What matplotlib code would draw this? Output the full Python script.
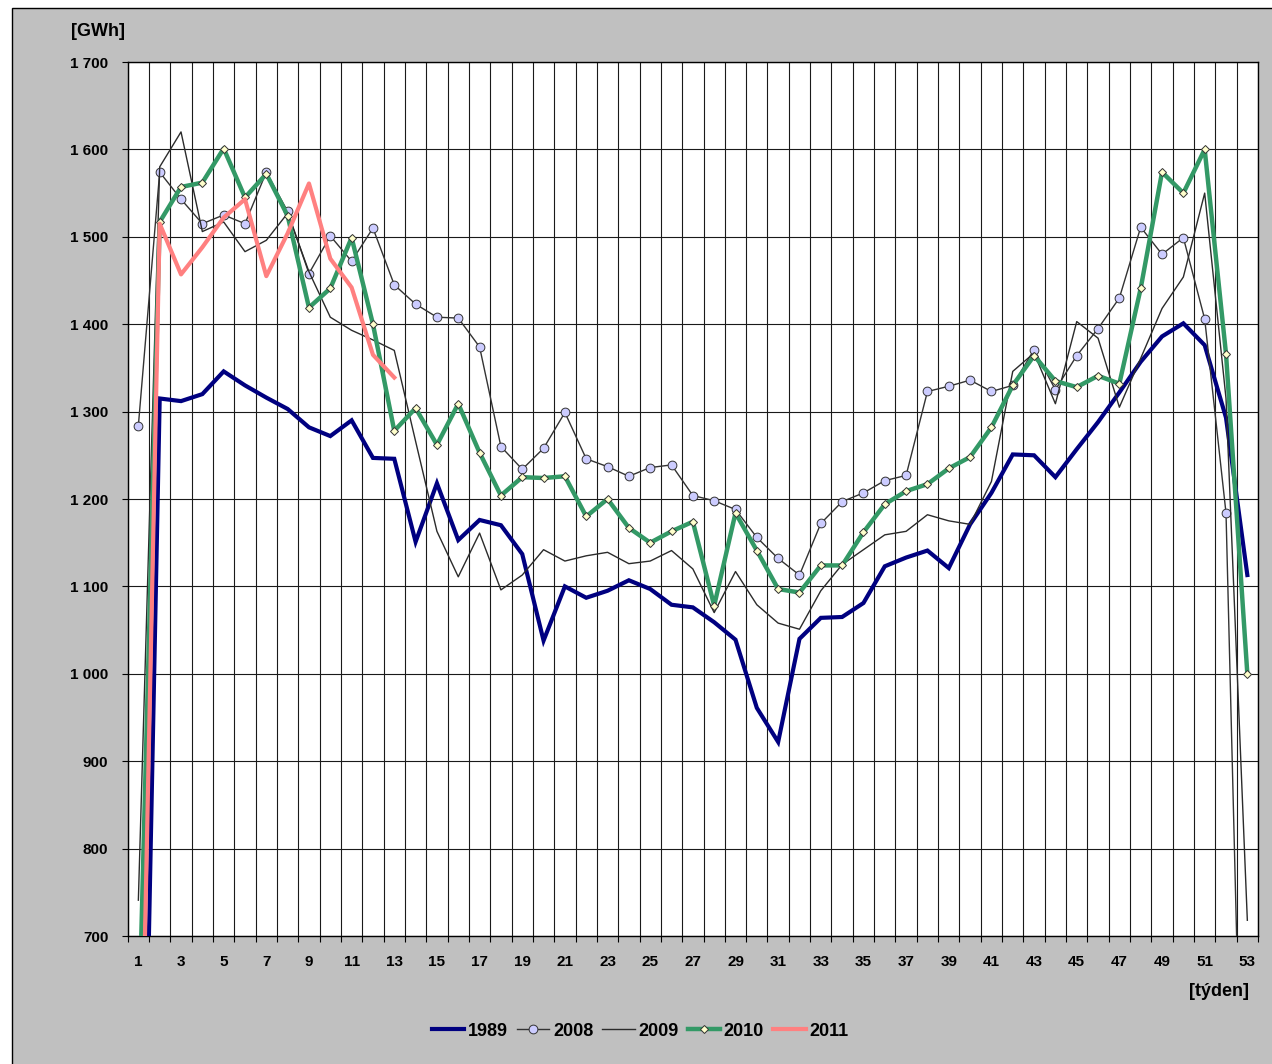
import numpy as np
import matplotlib
matplotlib.use("Agg")
import matplotlib.pyplot as plt
from matplotlib.patches import Rectangle
from matplotlib.ticker import FuncFormatter

plt.rcParams['font.family'] = ['Liberation Sans', 'DejaVu Sans']
plt.rcParams['font.weight'] = 'bold'

# Weekly electricity consumption [GWh]
weeks = np.arange(1, 54)

y1989 = [100, 1315, 1312, 1320, 1346, 1330, 1316, 1303, 1282, 1272, 1290, 1247, 1246,
         1151, 1218, 1153, 1176, 1170, 1137, 1038, 1100, 1087, 1095, 1107, 1097, 1079,
         1076, 1059, 1039, 961, 922, 1040, 1064, 1065, 1081, 1123, 1133, 1141, 1121,
         1171, 1207, 1251, 1250, 1225, 1257, 1288, 1322, 1357, 1386, 1401, 1376, 1293, 1113]

y2008 = [1284, 1574, 1543, 1515, 1525, 1515, 1574, 1529, 1458, 1501, 1472, 1510, 1445,
         1423, 1408, 1407, 1374, 1260, 1234, 1258, 1299, 1246, 1237, 1226, 1236, 1239,
         1204, 1198, 1188, 1156, 1132, 1113, 1172, 1197, 1207, 1221, 1227, 1323, 1329,
         1336, 1323, 1330, 1371, 1325, 1364, 1395, 1430, 1511, 1480, 1499, 1406, 1184, 210]

y2009 = [741, 1580, 1620, 1506, 1517, 1483, 1496, 1527, 1460, 1408, 1393, 1382, 1370,
         1266, 1163, 1111, 1161, 1096, 1113, 1142, 1129, 1135, 1139, 1126, 1129, 1141,
         1120, 1070, 1117, 1079, 1058, 1051, 1095, 1125, 1142, 1159, 1163, 1182, 1175,
         1171, 1220, 1346, 1367, 1309, 1403, 1384, 1305, 1361, 1418, 1454, 1550, 1315, 718]

y2010 = [570, 1517, 1557, 1562, 1601, 1545, 1572, 1524, 1419, 1441, 1499, 1400, 1278,
         1304, 1262, 1309, 1253, 1204, 1225, 1224, 1226, 1180, 1200, 1167, 1150, 1163,
         1174, 1078, 1184, 1141, 1097, 1093, 1124, 1124, 1162, 1194, 1209, 1217, 1235,
         1248, 1282, 1330, 1364, 1335, 1328, 1341, 1332, 1441, 1574, 1550, 1600, 1366, 1000]

y2011 = [335, 1515, 1457, 1488, 1522, 1543, 1455, 1504, 1561, 1475, 1442, 1365, 1339]

W, H = 1272, 1064
fig = plt.figure(figsize=(W / 100, H / 100), dpi=100, facecolor='white')

# grey chart area with a thin black frame
fig.patches.append(Rectangle((12 / W, -0.05), 1.2, 1 - 8 / H + 0.05,
                             transform=fig.transFigure, facecolor='#C0C0C0',
                             edgecolor='black', linewidth=1.0, zorder=-10))

left, right, top, bottom = 127.7, 1258, 62, 936
ax = fig.add_axes([left / W, 1 - bottom / H, (right - left) / W, (bottom - top) / H])
ax.set_facecolor('white')

ax.plot(weeks, y1989, color='#000080', lw=3.0, label='1989', zorder=3,
        solid_joinstyle='miter')
ax.plot(weeks, y2008, color='#333333', lw=1.0, marker='o', markersize=6.3,
        markerfacecolor='#CCCCFF', markeredgecolor='#333333', markeredgewidth=0.7,
        label='2008', zorder=4)
ax.plot(weeks, y2009, color='#2b2b2b', lw=1.0, label='2009', zorder=5)
ax.plot(weeks, y2010, color='#339966', lw=3.2, marker='D', markersize=4.5,
        markerfacecolor='#FFFFCC', markeredgecolor='#333333', markeredgewidth=0.7,
        label='2010', zorder=6)
ax.plot(weeks[:len(y2011)], y2011, color='#FF8080', lw=3.0, label='2011', zorder=7)

ax.set_xlim(0.5, 53.5)
ax.set_ylim(700, 1700)

ax.set_xticks(np.arange(0.5, 54, 1))
ax.set_xticklabels([])
ax.set_xticks(np.arange(1, 54, 2), minor=True)
ax.set_xticklabels([str(w) for w in range(1, 54, 2)], minor=True)
ax.tick_params(axis='x', which='major', direction='out', length=4, width=0.8, color='black')
ax.tick_params(axis='x', which='minor', length=0, pad=14, labelsize=11)

ax.set_yticks(np.arange(700, 1701, 100))
ax.yaxis.set_major_formatter(FuncFormatter(lambda v, p: f"{int(v):,}".replace(',', ' ')))
ax.tick_params(axis='y', direction='out', length=4.5, width=0.8, pad=9.5, labelsize=11)

ax.grid(True, which='major', axis='both', color='#1a1a1a', linewidth=0.8)
ax.set_axisbelow(True)
for s in ax.spines.values():
    s.set_color('black')
    s.set_linewidth(1.0)

fig.text(98 / W, 1 - 32 / H, '[GWh]', ha='center', va='center', fontsize=13, fontweight='bold')
fig.text(1219 / W, 1 - 992 / H, '[týden]', ha='center', va='center', fontsize=13, fontweight='bold')

leg = fig.legend(loc='center', bbox_to_anchor=(640 / W, 1 - 1031 / H), ncol=5,
                 frameon=False, fontsize=13, handlelength=1.8, handletextpad=0.2,
                 columnspacing=0.5, numpoints=1)

fig.savefig('out.png', dpi=100, facecolor=fig.get_facecolor())
